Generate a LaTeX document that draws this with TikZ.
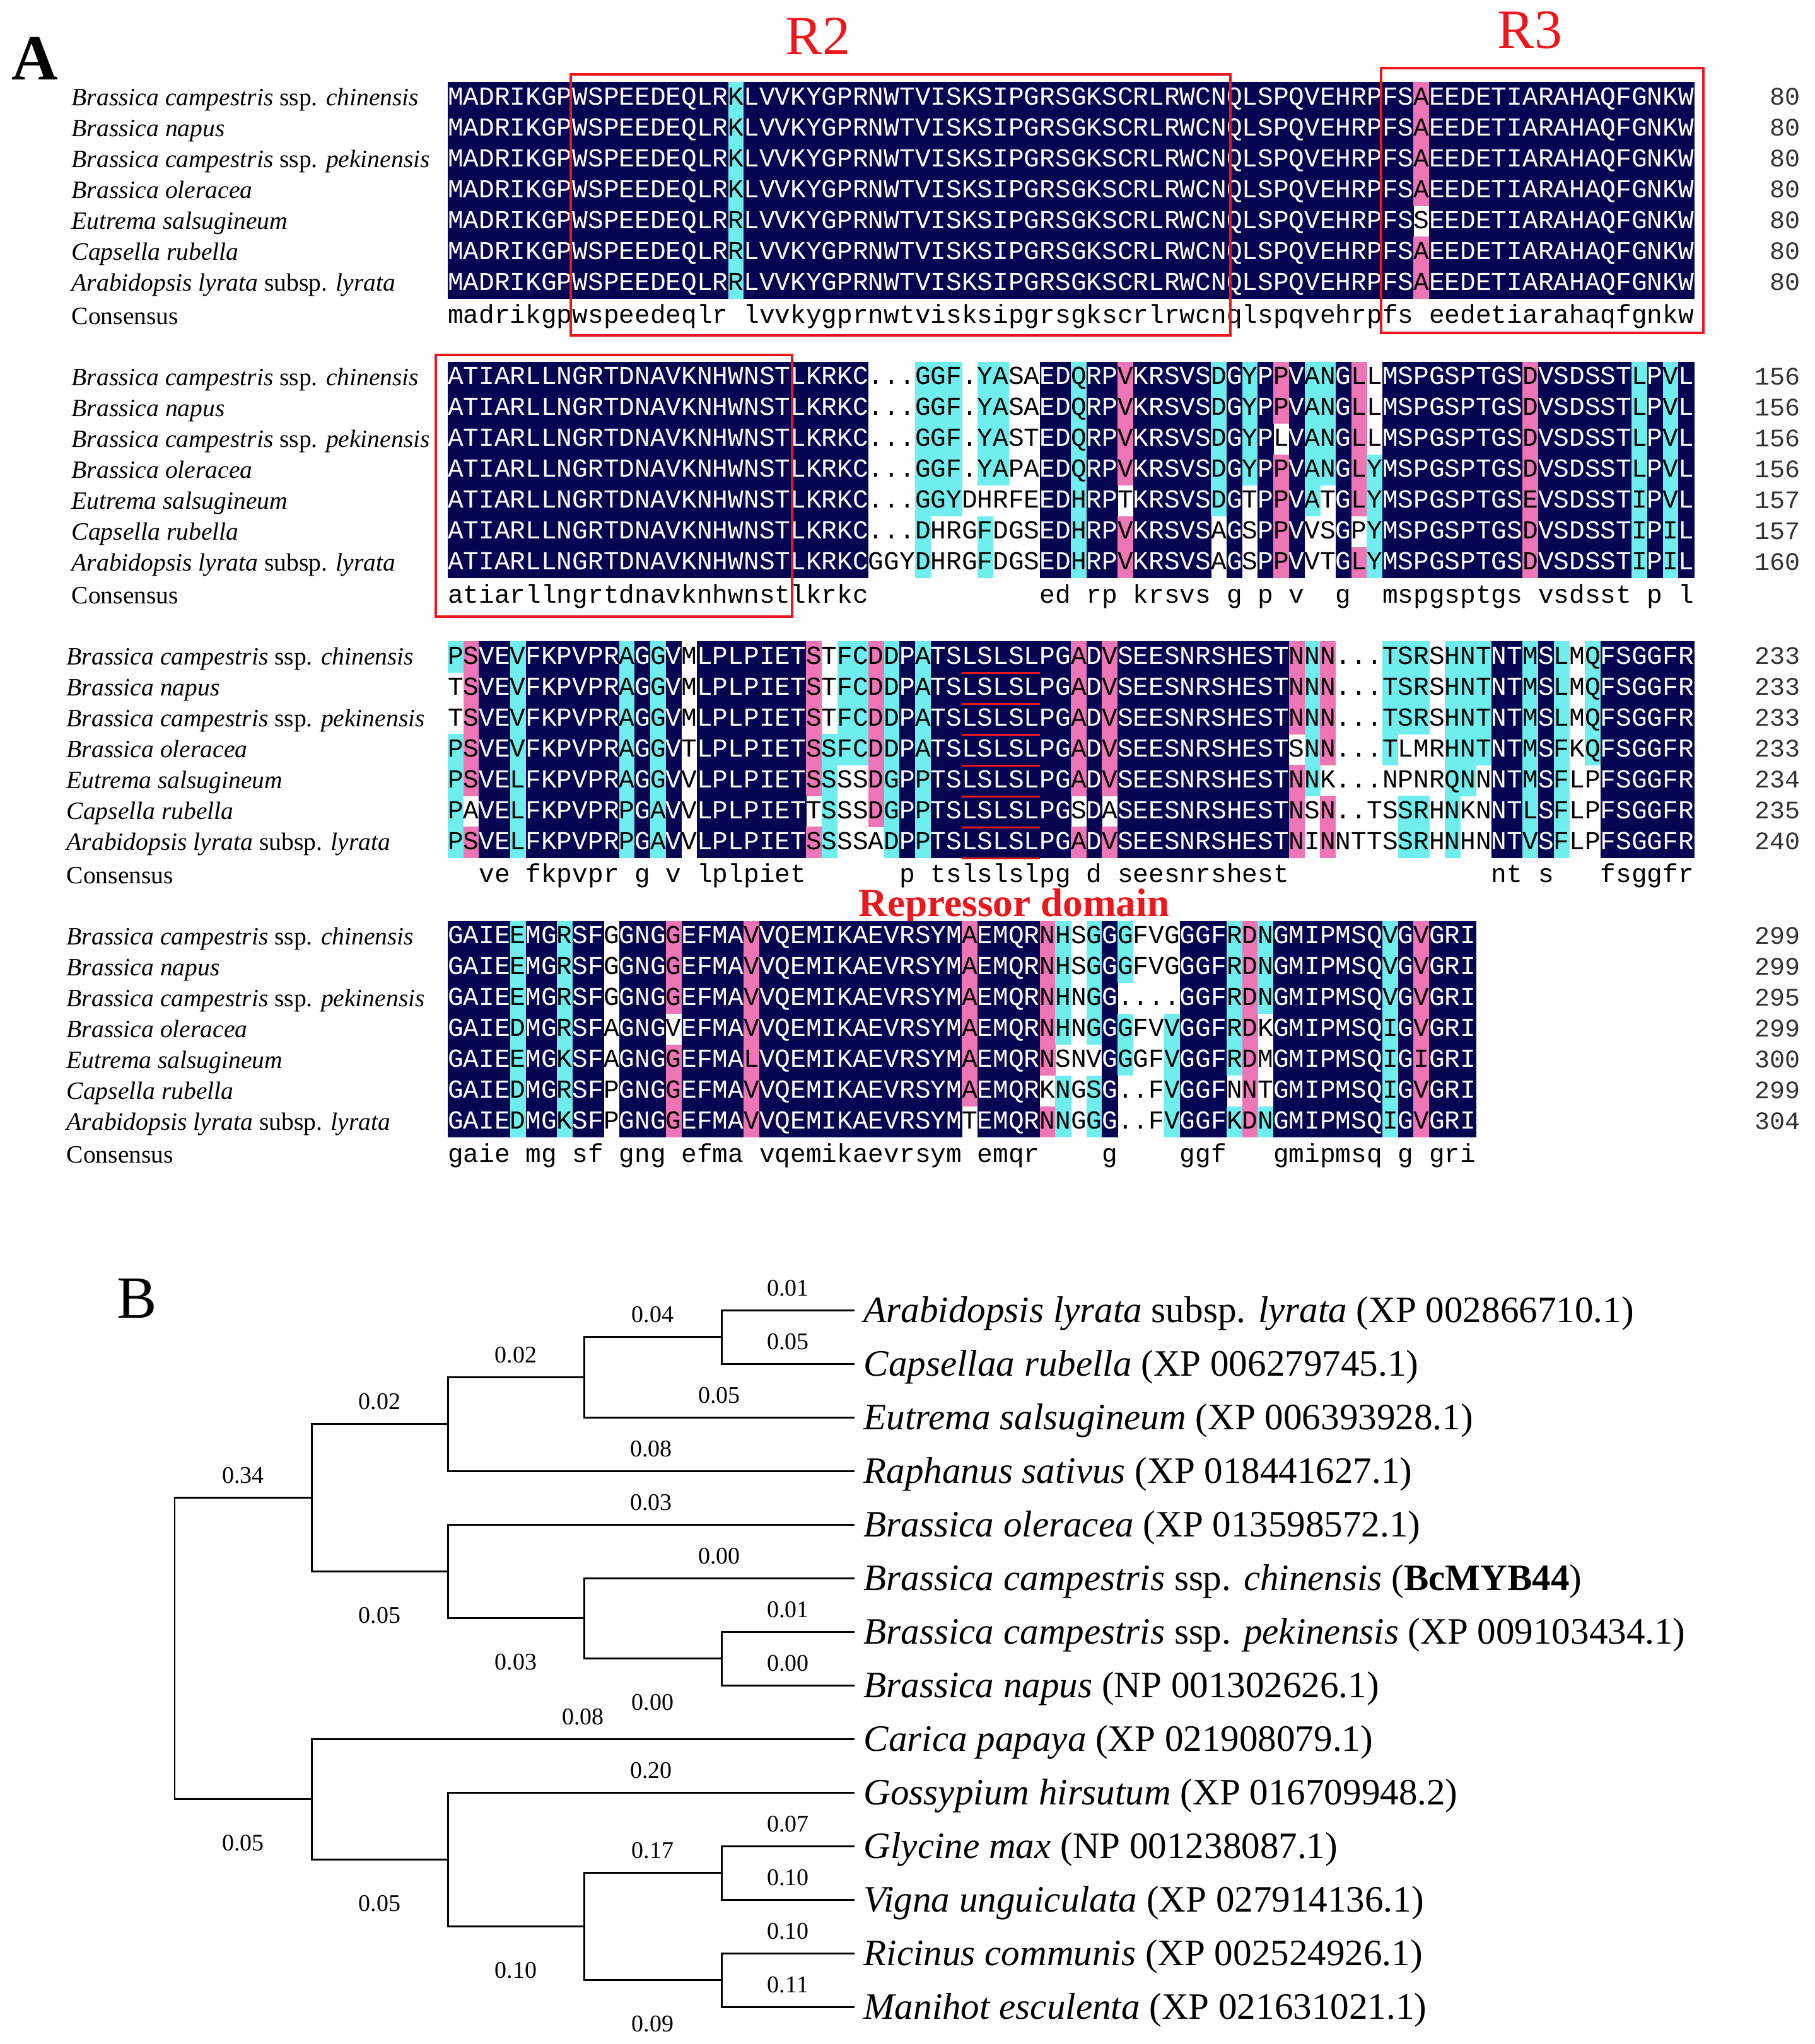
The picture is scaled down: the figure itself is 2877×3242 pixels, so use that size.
\documentclass[tikz,border=0pt]{standalone}
\usepackage{fontspec}
\setmainfont{Liberation Serif}
\setmonofont{Liberation Mono}
\definecolor{navy}{RGB}{5,5,82}
\definecolor{cyanb}{RGB}{112,238,238}
\definecolor{pinkb}{RGB}{238,118,182}
\definecolor{redbox}{RGB}{236,22,28}
\newcount\colidx
\def\Nt{NNNNNNNNNN}
\def\Wt{WWWWWWWWWW}
\def\storeloop#1{\ifx#1\relax\else\global\advance\colidx by 1 \expandafter\xdef\csname cc\the\colidx\endcsname{#1}\expandafter\storeloop\fi}
\newcommand\storecolors[1]{\global\colidx=0 \edef\tmpcol{#1}\expandafter\storeloop\tmpcol\relax}
\newcommand\drawcell[1]{%
  \pgfmathsetmacro\xl{710+(\the\colidx-1)*24.7}%
  \def\tc{black}%
  \if N\csname cc\the\colidx\endcsname
    \fill[navy] (\xl,\rowy-24.5) rectangle ++(25.2,49.5);\def\tc{white}%
  \fi
  \if C\csname cc\the\colidx\endcsname
    \fill[cyanb] (\xl,\rowy-24.5) rectangle ++(25.2,49.5);%
  \fi
  \if P\csname cc\the\colidx\endcsname
    \fill[pinkb] (\xl,\rowy-24.5) rectangle ++(25.2,49.5);%
  \fi
  \if -#1\else
    \node[res,text=\tc,name=\rowid c\the\colidx] at (\xl+12.35,\rowy+11.5) {#1};%
  \fi}
\def\resloop#1{\ifx#1\relax\else\global\advance\colidx by 1 \drawcell{#1}\expandafter\resloop\fi}
\newcommand\seqrow[4]{\storecolors{#4}\def\rowy{#2}\def\rowid{#1}\global\colidx=0 \edef\tmpres{#3}\expandafter\resloop\tmpres\relax}
\newcommand\blocklabels[3]{%
  \node[splab,name=#1n1] at (#3,#2+37.5) {\textit{Brassica campestris} ssp. \textit{chinensis}};
  \node[splab,name=#1n2] at (#3,#2+86.5) {\textit{Brassica napus}};
  \node[splab,name=#1n3] at (#3,#2+135.5) {\textit{Brassica campestris} ssp. \textit{pekinensis}};
  \node[splab,name=#1n4] at (#3,#2+184.5) {\textit{Brassica oleracea}};
  \node[splab,name=#1n5] at (#3,#2+233.5) {\textit{Eutrema salsugineum}};
  \node[splab,name=#1n6] at (#3,#2+282.5) {\textit{Capsella rubella}};
  \node[splab,name=#1n7] at (#3,#2+331.5) {\textit{Arabidopsis lyrata} subsp. \textit{lyrata}};
  \node[splab,name=#1n8] at (#3,#2+384) {Consensus};}
\newcommand\blocknums[9]{%
  \node[numlab,name=#1m1] at (2855,#2+36.5) {#3};
  \node[numlab,name=#1m2] at (2855,#2+85.5) {#4};
  \node[numlab,name=#1m3] at (2855,#2+134.5) {#5};
  \node[numlab,name=#1m4] at (2855,#2+183.5) {#6};
  \node[numlab,name=#1m5] at (2855,#2+232.5) {#7};
  \node[numlab,name=#1m6] at (2855,#2+281.5) {#8};
  \node[numlab,name=#1m7] at (2855,#2+330.5) {#9};}
\newcommand\bra[5]{\draw[branch] (#1) |- (#2) node[brlab,pos=0.75,yshift=#4,name=#5] {#3};}
\begin{document}
\begin{tikzpicture}[x=0.01cm,y=-0.01cm,
  res/.style={inner sep=0pt,anchor=base,font=\fontsize{11.7}{12}\selectfont\ttfamily},
  splab/.style={inner sep=0pt,anchor=base west,font=\fontsize{11.25}{13}\selectfont},
  numlab/.style={inner sep=0pt,anchor=base east,font=\fontsize{11.4}{12}\selectfont\ttfamily,text=black!80},
  tiplab/.style={inner sep=0pt,anchor=base west,font=\fontsize{16.8}{18}\selectfont},
  brlab/.style={inner sep=0pt,anchor=base,font=\fontsize{10.8}{12}\selectfont},
  branch/.style={line width=0.85pt},
  ubar/.style={redbox,line width=1pt},
  rbox/.style={redbox,line width=1.15pt}]
\fill[white] (0,0) rectangle (2877,3242);
\useasboundingbox (0,0) rectangle (2877,3242);

\node[inner sep=0pt,anchor=base,font=\fontsize{29}{30}\selectfont\bfseries,name=labA] at (55,126) {A};

% ---------------- Block 1 ----------------
\seqrow{ba}{154.5}{MADRIKGPWS PEEDEQLRKL VVKYGPRNWT VISKSIPGRS GKSCRLRWCN QLSPQVEHRP FSAEEDETIA RAHAQFGNKW}{\Nt NNNNNNNNCN \Nt\Nt\Nt\Nt NNPNNNNNNN \Nt}
\seqrow{bb}{203.5}{MADRIKGPWS PEEDEQLRKL VVKYGPRNWT VISKSIPGRS GKSCRLRWCN QLSPQVEHRP FSAEEDETIA RAHAQFGNKW}{\Nt NNNNNNNNCN \Nt\Nt\Nt\Nt NNPNNNNNNN \Nt}
\seqrow{bc}{252.5}{MADRIKGPWS PEEDEQLRKL VVKYGPRNWT VISKSIPGRS GKSCRLRWCN QLSPQVEHRP FSAEEDETIA RAHAQFGNKW}{\Nt NNNNNNNNCN \Nt\Nt\Nt\Nt NNPNNNNNNN \Nt}
\seqrow{bd}{301.5}{MADRIKGPWS PEEDEQLRKL VVKYGPRNWT VISKSIPGRS GKSCRLRWCN QLSPQVEHRP FSAEEDETIA RAHAQFGNKW}{\Nt NNNNNNNNCN \Nt\Nt\Nt\Nt NNPNNNNNNN \Nt}
\seqrow{be}{350.5}{MADRIKGPWS PEEDEQLRRL VVKYGPRNWT VISKSIPGRS GKSCRLRWCN QLSPQVEHRP FSSEEDETIA RAHAQFGNKW}{\Nt NNNNNNNNCN \Nt\Nt\Nt\Nt NNWNNNNNNN \Nt}
\seqrow{bf}{399.5}{MADRIKGPWS PEEDEQLRRL VVKYGPRNWT VISKSIPGRS GKSCRLRWCN QLSPQVEHRP FSAEEDETIA RAHAQFGNKW}{\Nt NNNNNNNNCN \Nt\Nt\Nt\Nt NNPNNNNNNN \Nt}
\seqrow{bg}{448.5}{MADRIKGPWS PEEDEQLRRL VVKYGPRNWT VISKSIPGRS GKSCRLRWCN QLSPQVEHRP FSAEEDETIA RAHAQFGNKW}{\Nt NNNNNNNNCN \Nt\Nt\Nt\Nt NNPNNNNNNN \Nt}
\seqrow{bh}{501}{madrikgpws peedeqlr-l vvkygprnwt visksipgrs gkscrlrwcn qlspqvehrp fs-eedetia rahaqfgnkw}{\Wt\Wt\Wt\Wt\Wt\Wt\Wt\Wt}
\blocklabels{p1}{130}{113}
\blocknums{q1}{130}{80}{80}{80}{80}{80}{80}{80}
\draw[rbox] (905,118) rectangle (1951,532);
\draw[rbox] (2190,108) rectangle (2701,528);
\node[inner sep=0pt,anchor=base,font=\fontsize{25}{26}\selectfont,text=redbox,name=labR2] at (1297,87) {R2};
\node[inner sep=0pt,anchor=base,font=\fontsize{25}{26}\selectfont,text=redbox,name=labR3] at (2426,77) {R3};

% ---------------- Block 2 ----------------
\seqrow{ca}{598}{ATIARLLNGR TDNAVKNHWN STLKRKC... GGF.YASAED QRPVKRSVSD GYPPVANGLL MSPGSPTGSD VSDSSTLPVL}{\Nt \Nt NNNNNNNWWW CCCWCCWWNN CNNPNNNNNC NCNPNCCNPW NNNNNNNNNP NNNNNNCNCN}
\seqrow{cb}{647}{ATIARLLNGR TDNAVKNHWN STLKRKC... GGF.YASAED QRPVKRSVSD GYPPVANGLL MSPGSPTGSD VSDSSTLPVL}{\Nt \Nt NNNNNNNWWW CCCWCCWWNN CNNPNNNNNC NCNPNCCNPW NNNNNNNNNP NNNNNNCNCN}
\seqrow{cc}{696}{ATIARLLNGR TDNAVKNHWN STLKRKC... GGF.YASTED QRPVKRSVSD GYPLVANGLL MSPGSPTGSD VSDSSTLPVL}{\Nt \Nt NNNNNNNWWW CCCWCCWWNN CNNPNNNNNC NCNWNCCNPW NNNNNNNNNP NNNNNNCNCN}
\seqrow{cd}{745}{ATIARLLNGR TDNAVKNHWN STLKRKC... GGF.YAPAED QRPVKRSVSD GYPPVANGLY MSPGSPTGSD VSDSSTLPVL}{\Nt \Nt NNNNNNNWWW CCCWCCWWNN CNNPNNNNNC NCNPNCCNPC NNNNNNNNNP NNNNNNCNCN}
\seqrow{ce}{794}{ATIARLLNGR TDNAVKNHWN STLKRKC... GGYDHRFEED HRPTKRSVSD GTPPVATGLY MSPGSPTGSE VSDSSTIPVL}{\Nt \Nt NNNNNNNWWW CCCWWWWWNN CNNWNNNNNC NWNPNCWNPC NNNNNNNNNP NNNNNNCNCN}
\seqrow{cf}{843}{ATIARLLNGR TDNAVKNHWN STLKRKC... DHRGFDGSED HRPVKRSVSA GSPPVVSGPY MSPGSPTGSD VSDSSTIPIL}{\Nt \Nt NNNNNNNWWW CWWWCWWWNN CNNPNNNNNW NWNPNWWNWC NNNNNNNNNP NNNNNNCNCN}
\seqrow{cg}{892}{ATIARLLNGR TDNAVKNHWN STLKRKCGGY DHRGFDGSED HRPVKRSVSA GSPPVVTGLY MSPGSPTGSD VSDSSTIPIL}{\Nt \Nt NNNNNNNWWW CWWWCWWWNN CNNPNNNNNW NWNPNWWNPC NNNNNNNNNP NNNNNNCNCN}
\seqrow{ch}{944.5}{atiarllngr tdnavknhwn stlkrkc--- --------ed -rp-krsvs- g-p-v--g-- mspgsptgs- vsdsst-p-l}{\Wt\Wt\Wt\Wt\Wt\Wt\Wt\Wt}
\blocklabels{p2}{573.5}{113}
\blocknums{q2}{573.5}{156}{156}{156}{156}{157}{157}{160}
\draw[rbox] (691,563) rectangle (1256,978);

% ---------------- Block 3 ----------------
\seqrow{da}{1041.5}{PSVEVFKPVP RAGGVMLPLP IETSTFCDDP ATSLSLSLPG ADVSEESNRS HESTNNN... TSRSHNTNTM SLMQFSGGFR}{CPNNCNNNNN NCNCNWNNNN NNNPWCCPCN CNNNNNNNNN PNPNNNNNNN NNNNPCPWWW CCCWCCCNNC NCWCNNNNNN}
\seqrow{db}{1090.5}{TSVEVFKPVP RAGGVMLPLP IETSTFCDDP ATSLSLSLPG ADVSEESNRS HESTNNN... TSRSHNTNTM SLMQFSGGFR}{WPNNCNNNNN NCNCNWNNNN NNNPWCCPCN CNNNNNNNNN PNPNNNNNNN NNNNPCPWWW CCCWCCCNNC NCWCNNNNNN}
\seqrow{dc}{1139.5}{TSVEVFKPVP RAGGVMLPLP IETSTFCDDP ATSLSLSLPG ADVSEESNRS HESTNNN... TSRSHNTNTM SLMQFSGGFR}{WPNNCNNNNN NCNCNWNNNN NNNPWCCPCN CNNNNNNNNN PNPNNNNNNN NNNNPCPWWW CCCWCCCNNC NCWCNNNNNN}
\seqrow{dd}{1188.5}{PSVEVFKPVP RAGGVTLPLP IETSSFCDDP ATSLSLSLPG ADVSEESNRS HESTSNN... TLMRHNTNTM SFKQFSGGFR}{CPNNCNNNNN NCNCNWNNNN NNNPCCCPCN CNNNNNNNNN PNPNNNNNNN NNNNWCPWWW CWWWCCCNNC NCWCNNNNNN}
\seqrow{de}{1237.5}{PSVELFKPVP RAGGVVLPLP IETSSSSDGP PTSLSLSLPG ADVSEESNRS HESTNNK... NPNRQNNNTM SFLPFSGGFR}{CPNNCNNNNN NCNCNWNNNN NNNPCWWPCN CNNNNNNNNN PNPNNNNNNN NNNNPCWWWW WWWWCCWNNC NCWWNNNNNN}
\seqrow{df}{1286.5}{PAVELFKPVP RPGAVVLPLP IETTSSSDGP PTSLSLSLPG SDASEESNRS HESTNSN..T SSRHNKNNTL SFLPFSGGFR}{CWNNCNNNNN NCNCNWNNNN NNNWCWWPCN CNNNNNNNNN WNWNNNNNNN NNNNPWPWWW WCCWCWWNNC NCWWNNNNNN}
\seqrow{dg}{1335.5}{PSVELFKPVP RPGAVVLPLP IETSSSSADP PTSLSLSLPG ADVSEESNRS HESTNINNTT SSRHNHNNTV SFLPFSGGFR}{CPNNCNNNNN NCNCNWNNNN NNNPCWWWCN CNNNNNNNNN PNPNNNNNNN NNNNPWPWWW WCCWCWWNNC NCWWNNNNNN}
\seqrow{dh}{1388}{--ve-fkpvp r-g-v-lplp iet------p -tslslslpg -d-seesnrs hest------ -------nt- s---fsggfr}{\Wt\Wt\Wt\Wt\Wt\Wt\Wt\Wt}
\blocklabels{p3}{1017}{105}
\blocknums{q3}{1017}{233}{233}{233}{233}{234}{235}{240}
\foreach \yy [count=\k] in {1067.5,1116.5,1165.5,1214.5,1263.5,1312.5,1361.5}
  \draw[ubar] (1525,\yy) coordinate (ua\k) -- (1649,\yy) coordinate (ub\k);
\node[inner sep=0pt,anchor=base,font=\fontsize{18}{19}\selectfont\bfseries,text=redbox,name=labRep] at (1608,1453) {Repressor domain};

% ---------------- Block 4 ----------------
\seqrow{ea}{1485}{GAIEEMGRSF GGNGGEFMAV VQEMIKAEVR SYMAEMQRNH SGGGFVGGGF RDNGMIPMSQ VGVGRI}{NNNNCNNCNN WNNNPNNNNP \Nt NNNPNNNNPC WCNCWWWNNN CPCNNNNNNN CNPNNN}
\seqrow{eb}{1534}{GAIEEMGRSF GGNGGEFMAV VQEMIKAEVR SYMAEMQRNH SGGGFVGGGF RDNGMIPMSQ VGVGRI}{NNNNCNNCNN WNNNPNNNNP \Nt NNNPNNNNPC WCNCWWWNNN CPCNNNNNNN CNPNNN}
\seqrow{ec}{1583}{GAIEEMGRSF GGNGGEFMAV VQEMIKAEVR SYMAEMQRNH NGG....GGF RDNGMIPMSQ VGVGRI}{NNNNCNNCNN WNNNPNNNNP \Nt NNNPNNNNPC WCNWWWWNNN CPCNNNNNNN CNPNNN}
\seqrow{ed}{1632}{GAIEDMGRSF AGNGVEFMAV VQEMIKAEVR SYMAEMQRNH NGGGFVVGGF RDKGMIPMSQ IGVGRI}{NNNNCNNCNN WNNNWNNNNP \Nt NNNPNNNNPC WCNCWWCNNN CPWNNNNNNN CNPNNN}
\seqrow{ee}{1681}{GAIEEMGKSF AGNGGEFMAL VQEMIKAEVR SYMAEMQRNS NVGGGFVGGF RDMGMIPMSQ IGIGRI}{NNNNCNNCNN WNNNPNNNNP \Nt NNNPNNNNPW WWNCWWCNNN CPWNNNNNNN CNPNNN}
\seqrow{ef}{1730}{GAIEDMGRSF PGNGGEFMAV VQEMIKAEVR SYMAEMQRKN GSG..FVGGF NNTGMIPMSQ IGVGRI}{NNNNCNNCNN WNNNPNNNNP \Nt NNNPNNNNWC WCNWWWCNNN WPWNNNNNNN CNPNNN}
\seqrow{eg}{1779}{GAIEDMGKSF PGNGGEFMAV VQEMIKAEVR SYMTEMQRNN GGG..FVGGF KDNGMIPMSQ IGVGRI}{NNNNCNNCNN WNNNPNNNNP \Nt NNNWNNNNPC WCNWWWCNNN CPCNNNNNNN CNPNNN}
\seqrow{eh}{1831.5}{gaie-mg-sf -gng-efma- vqemikaevr sym-emqr-- --g----ggf ---gmipmsq -g-gri}{\Wt\Wt\Wt\Wt\Wt\Wt WWWWWW}
\blocklabels{p4}{1460.5}{105}
\blocknums{q4}{1460.5}{299}{299}{295}{299}{300}{299}{304}

% ---------------- Tree ----------------
\node[inner sep=0pt,anchor=base,font=\fontsize{27}{28}\selectfont,name=labB] at (217,2090) {B};
\coordinate (tA) at (1355,2078);
\coordinate (tC) at (1355,2163);
\coordinate (tE) at (1355,2248);
\coordinate (tR) at (1355,2333);
\coordinate (tBo) at (1355,2418);
\coordinate (tBc) at (1355,2503);
\coordinate (tBp) at (1355,2588);
\coordinate (tBn) at (1355,2673);
\coordinate (tCa) at (1355,2758);
\coordinate (tGh) at (1355,2843);
\coordinate (tGm) at (1355,2928);
\coordinate (tVu) at (1355,3013);
\coordinate (tRc) at (1355,3098);
\coordinate (tMe) at (1355,3183);
\coordinate (nRoot) at (277,2614.6);
\coordinate (nU) at (494,2375.5);
\coordinate (nL) at (494,2853.6);
\coordinate (nACER) at (710,2258.6);
\coordinate (nBRAS) at (710,2492.4);
\coordinate (nACE) at (926,2184.25);
\coordinate (nAC) at (1144,2120.5);
\coordinate (nCHPN) at (926,2566.75);
\coordinate (nPN) at (1144,2630.5);
\coordinate (nGR) at (710,2949.25);
\coordinate (nFAB) at (926,3055.5);
\coordinate (nGV) at (1144,2970.5);
\coordinate (nRM) at (1144,3140.5);

\bra{nRoot}{nU}{0.34}{0.23cm}{v1}
\bra{nRoot}{nL}{0.05}{-0.82cm}{v2}
\bra{nU}{nACER}{0.02}{0.23cm}{v3}
\bra{nU}{nBRAS}{0.05}{-0.82cm}{v4}
\bra{nACER}{nACE}{0.02}{0.23cm}{v5}
\bra{nACER}{tR}{0.08}{0.23cm}{v6}
\bra{nACE}{nAC}{0.04}{0.23cm}{v7}
\bra{nACE}{tE}{0.05}{0.23cm}{v8}
\bra{nAC}{tA}{0.01}{0.23cm}{v9}
\bra{nAC}{tC}{0.05}{0.23cm}{v10}
\bra{nBRAS}{tBo}{0.03}{0.23cm}{v11}
\bra{nBRAS}{nCHPN}{0.03}{-0.82cm}{v12}
\bra{nCHPN}{tBc}{0.00}{0.23cm}{v13}
\bra{nCHPN}{nPN}{0.00}{-0.82cm}{v14}
\bra{nPN}{tBp}{0.01}{0.23cm}{v15}
\bra{nPN}{tBn}{0.00}{0.23cm}{v16}
\bra{nL}{tCa}{0.08}{0.23cm}{v17}
\bra{nL}{nGR}{0.05}{-0.82cm}{v18}
\bra{nGR}{tGh}{0.20}{0.23cm}{v19}
\bra{nGR}{nFAB}{0.10}{-0.82cm}{v20}
\bra{nFAB}{nGV}{0.17}{0.23cm}{v21}
\bra{nFAB}{nRM}{0.09}{-0.82cm}{v22}
\bra{nGV}{tGm}{0.07}{0.23cm}{v23}
\bra{nGV}{tVu}{0.10}{0.23cm}{v24}
\bra{nRM}{tRc}{0.10}{0.23cm}{v25}
\bra{nRM}{tMe}{0.11}{0.23cm}{v26}

\node[tiplab,name=lA] at (1369,2097) {\textit{Arabidopsis lyrata} subsp. \textit{lyrata} (XP 002866710.1)};
\node[tiplab,name=lC] at (1369,2182) {\textit{Capsellaa rubella} (XP 006279745.1)};
\node[tiplab,name=lE] at (1369,2267) {\textit{Eutrema salsugineum} (XP 006393928.1)};
\node[tiplab,name=lR] at (1369,2352) {\textit{Raphanus sativus} (XP 018441627.1)};
\node[tiplab,name=lBo] at (1369,2437) {\textit{Brassica oleracea} (XP 013598572.1)};
\node[tiplab,name=lBc] at (1369,2522) {\textit{Brassica campestris} ssp. \textit{chinensis} (\textbf{BcMYB44})};
\node[tiplab,name=lBp] at (1369,2607) {\textit{Brassica campestris} ssp. \textit{pekinensis} (XP 009103434.1)};
\node[tiplab,name=lBn] at (1369,2692) {\textit{Brassica napus} (NP 001302626.1)};
\node[tiplab,name=lCa] at (1369,2777) {\textit{Carica papaya} (XP 021908079.1)};
\node[tiplab,name=lGh] at (1369,2862) {\textit{Gossypium hirsutum} (XP 016709948.2)};
\node[tiplab,name=lGm] at (1369,2947) {\textit{Glycine max} (NP 001238087.1)};
\node[tiplab,name=lVu] at (1369,3032) {\textit{Vigna unguiculata} (XP 027914136.1)};
\node[tiplab,name=lRc] at (1369,3117) {\textit{Ricinus communis} (XP 002524926.1)};
\node[tiplab,name=lMe] at (1369,3202) {\textit{Manihot esculenta} (XP 021631021.1)};
\end{tikzpicture}
\end{document}
